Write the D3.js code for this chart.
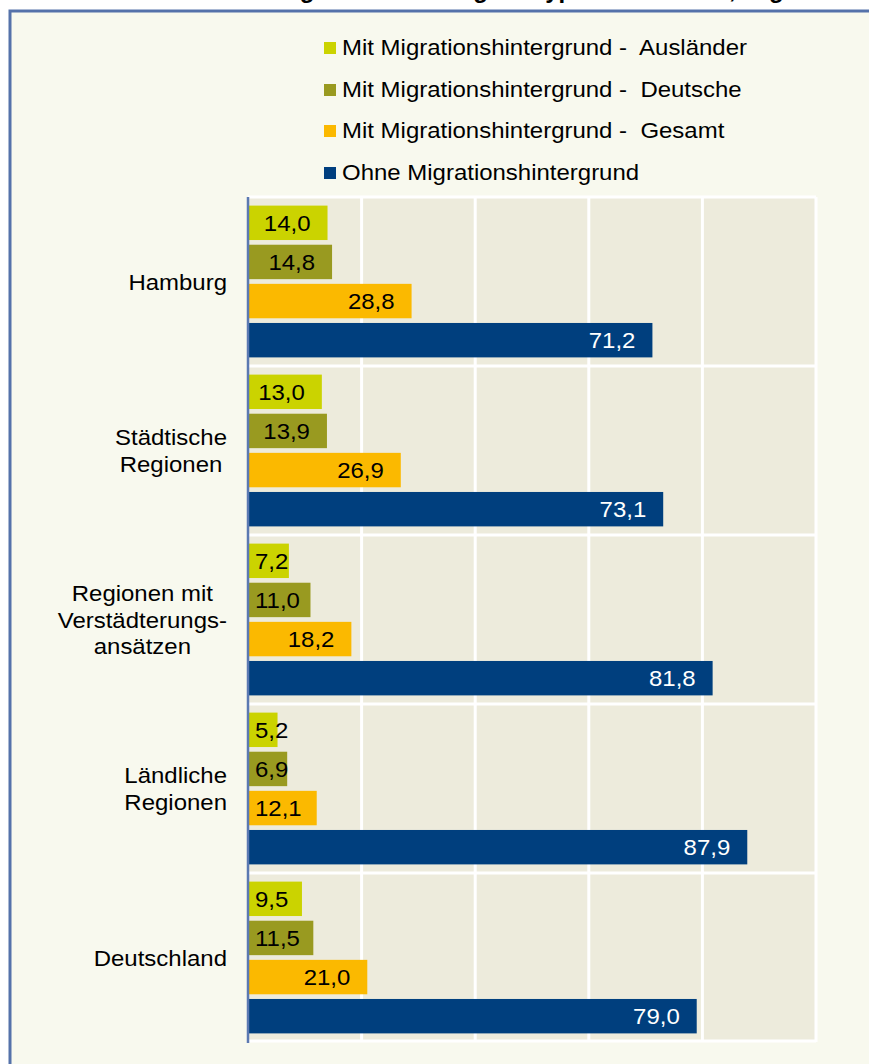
<!DOCTYPE html>
<html>
<head>
<meta charset="utf-8">
<script src="https://cdn.jsdelivr.net/npm/d3@7"></script>
<style>
  html, body { margin: 0; padding: 0; background: #ffffff; }
  svg { display: block; font-family: Arial, "Liberation Sans", sans-serif; }
  svg text { white-space: pre; }
</style>
</head>
<body>
<svg id="chart" width="869" height="1064"></svg>
<script>
// ---- data ----
const categories = ["Hamburg", "Städtische Regionen", "Regionen mit Verstädterungsansätzen", "Ländliche Regionen", "Deutschland"];
const categoryLines = [["Hamburg"], ["Städtische", "Regionen"], ["Regionen mit", "Verstädterungs-", "ansätzen"], ["Ländliche", "Regionen"], ["Deutschland"]];
const seriesNames = ["Mit Migrationshintergrund -  Ausländer", "Mit Migrationshintergrund -  Deutsche", "Mit Migrationshintergrund -  Gesamt", "Ohne Migrationshintergrund"];
const auslaender = [14.0, 13.0, 7.2, 5.2, 9.5];
const deutsche   = [14.8, 13.9, 11.0, 6.9, 11.5];
const gesamt     = [28.8, 26.9, 18.2, 12.1, 21.0];
const ohne       = [71.2, 73.1, 81.8, 87.9, 79.0];
const xTicks = [0, 20, 40, 60, 80, 100];
const titleText = "Bevölkerung 2011 nach Regionstyp und Herkunft, Migrationshintergrund";

const seriesValues = [auslaender, deutsche, gesamt, ohne];
const colors = ["#cbd300", "#999a20", "#fbb900", "#003f7e"];
const labelColors = ["#000", "#000", "#000", "#fff"];

const svg = d3.select("#chart");
const SX = 1.09; // slight horizontal text stretch

function txt(sel, x, y) {
  return sel.attr("transform", `translate(${x},${y}) scale(${SX},1)`);
}

// background + frame
svg.append("rect").attr("x", 10).attr("y", 11).attr("width", 900).attr("height", 1100)
  .attr("fill", "#f8f9ee").attr("stroke", "#5572aa").attr("stroke-width", 3);

// title (mostly cut off above the page, as in the reference)
svg.append("text").attr("x", 169).attr("y", -2)
  .attr("font-size", 24).attr("font-weight", "bold").attr("fill", "#000").text(titleText);

// scales
const plot = { left: 248, right: 816, top: 197, bottom: 1042 };
const x = d3.scaleLinear().domain([0, 100]).range([plot.left, plot.right]);
const y = d3.scaleBand().domain(categories).range([plot.top, plot.bottom]).padding(0);
const yInner = d3.scaleBand().domain(d3.range(4)).range([0, y.bandwidth()]).paddingInner(0.12).paddingOuter(0.22);

// plot background
svg.append("rect").attr("x", x(0)).attr("y", plot.top).attr("width", x(100) - x(0)).attr("height", plot.bottom - plot.top)
  .attr("fill", "#edebdc");

// vertical gridlines
svg.append("g").selectAll("line").data(xTicks.slice(1)).join("line")
  .attr("x1", d => x(d)).attr("x2", d => x(d)).attr("y1", plot.top).attr("y2", plot.bottom)
  .attr("stroke", "#ffffff").attr("stroke-width", 3);

// horizontal category separators
const bounds = categories.map(c => y(c)).concat([plot.bottom - 1]);
svg.append("g").selectAll("line").data(bounds).join("line")
  .attr("x1", x(0)).attr("x2", x(100)).attr("y1", d => d).attr("y2", d => d)
  .attr("stroke", "#ffffff").attr("stroke-width", 3);

// bars
const barData = [];
categories.forEach((c, ci) => seriesValues.forEach((arr, si) => barData.push({ c, ci, si, v: arr[ci] })));

svg.append("g").selectAll("rect").data(barData).join("rect")
  .attr("x", x(0)).attr("y", d => y(d.c) + yInner(d.si))
  .attr("width", d => x(d.v) - x(0)).attr("height", yInner.bandwidth())
  .attr("fill", d => colors[d.si]);

// value labels
const fmt = v => v.toFixed(1).replace(".", ",");
const lg = svg.append("g");
barData.forEach(d => {
  const t = lg.append("text").attr("font-size", 22).attr("fill", labelColors[d.si])
    .attr("text-anchor", "end").text(fmt(d.v));
  const w = t.node().getComputedTextLength() * SX;
  const end = Math.max(x(d.v) - 17, x(0) + 7 + w);
  txt(t, end, y(d.c) + yInner(d.si) + yInner.bandwidth() / 2 + 8);
});

// left axis line
svg.append("line").attr("x1", x(0)).attr("x2", x(0)).attr("y1", plot.top).attr("y2", plot.bottom + 1)
  .attr("stroke", "#5b79b2").attr("stroke-width", 2.5);

// category labels (centered block, right edge near axis)
const cg = svg.append("g");
categories.forEach((c, ci) => {
  const lines = categoryLines[ci];
  const g = cg.append("g");
  const ts = lines.map(l => g.append("text").attr("font-size", 22).attr("fill", "#000").attr("text-anchor", "middle").text(l));
  const maxW = d3.max(ts, t => t.node().getComputedTextLength() * SX);
  const cx = 227 - maxW / 2;
  const cy = y(c) + y.bandwidth() / 2;
  const lh = 26.6;
  ts.forEach((t, i) => txt(t, cx, cy - (lines.length - 1) * lh / 2 + 8 + i * lh));
});

// legend
const legBase = [55, 97, 138, 180];
const leg = svg.append("g");
seriesNames.forEach((name, i) => {
  leg.append("rect").attr("x", 324).attr("y", legBase[i] - 13).attr("width", 12).attr("height", 12).attr("fill", colors[i]);
  txt(leg.append("text").attr("font-size", 22).attr("fill", "#000").text(name), 342, legBase[i]);
});
</script>
</body>
</html>
